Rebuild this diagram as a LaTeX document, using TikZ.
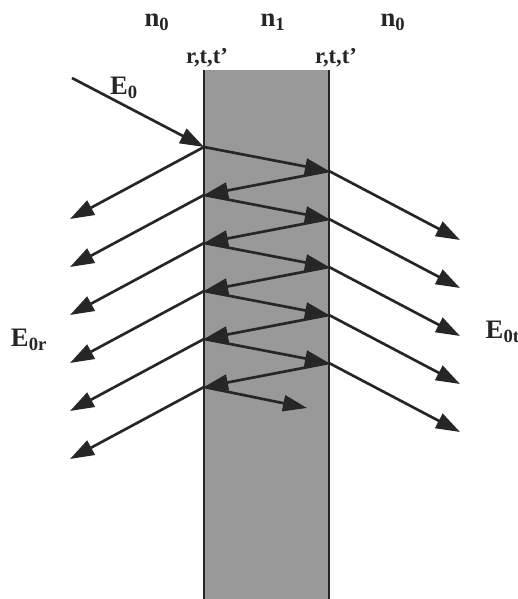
\documentclass[tikz,border=0pt]{standalone}
\usepackage{fontspec}
\setmainfont{Liberation Serif}
\usepackage{tikz}
\usetikzlibrary{arrows.meta}

\tikzset{
  ray/.style={line width=2pt, black!85, -{Triangle[length=18pt, width=12pt]}},
  lbl/.style={font=\bfseries\fontsize{20}{22}\selectfont, black!85},
  ilbl/.style={font=\bfseries\fontsize{17}{19}\selectfont, black!85}
}

\begin{document}
\begin{tikzpicture}[x=0.75pt, y=-0.75pt]
  \useasboundingbox (0,0) rectangle (517,599);

  % Plaque
  \fill[black!40] (204,70) rectangle (329,599);
  \draw[line width=2.2pt, black!85] (204,70) -- (204,599);
  \draw[line width=2.2pt, black!85] (329,70) -- (329,599);

  % Indices
  \node[lbl] (nzeroL) at (157,22) {n\textsubscript{0}};
  \node[lbl] (none) at (273,22) {n\textsubscript{1}};
  \node[lbl] (nzeroR) at (393,22) {n\textsubscript{0}};
  \node[ilbl] (coefL) at (207,58) {r,t,t'};
  \node[ilbl] (coefR) at (336,58) {r,t,t'};

  % Points sur les interfaces
  \coordinate (L0) at (204,147);
  \coordinate (R0) at (329,171);
  \coordinate (L1) at (204,195);
  \coordinate (R1) at (329,219);
  \coordinate (L2) at (204,243);
  \coordinate (R2) at (329,267);
  \coordinate (L3) at (204,291);
  \coordinate (R3) at (329,315);
  \coordinate (L4) at (204,339);
  \coordinate (R4) at (329,363);
  \coordinate (L5) at (204,387);
  \coordinate (fin) at (307,408);

  % Onde incidente
  \coordinate (src) at (72,78);
  \draw[ray] (src) -- (L0);
  \node[lbl] (Ezero) at (124,88) {E\textsubscript{0}};

  % Aller-retours dans la plaque
  \draw[ray] (L0) -- (R0);
  \draw[ray] (R0) -- (L1);
  \draw[ray] (L1) -- (R1);
  \draw[ray] (R1) -- (L2);
  \draw[ray] (L2) -- (R2);
  \draw[ray] (R2) -- (L3);
  \draw[ray] (L3) -- (R3);
  \draw[ray] (R3) -- (L4);
  \draw[ray] (L4) -- (R4);
  \draw[ray] (R4) -- (L5);
  \draw[ray] (L5) -- (fin);

  % Ondes reflechies
  \coordinate (r0) at (70,219);
  \coordinate (r1) at (70,267);
  \coordinate (r2) at (70,315);
  \coordinate (r3) at (70,363);
  \coordinate (r4) at (70,411);
  \coordinate (r5) at (70,459);
  \draw[ray] (L0) -- (r0);
  \draw[ray] (L1) -- (r1);
  \draw[ray] (L2) -- (r2);
  \draw[ray] (L3) -- (r3);
  \draw[ray] (L4) -- (r4);
  \draw[ray] (L5) -- (r5);
  \node[lbl] (Er) at (29,340) {E\textsubscript{0r}};

  % Ondes transmises
  \coordinate (t0) at (460,240);
  \coordinate (t1) at (460,288);
  \coordinate (t2) at (460,336);
  \coordinate (t3) at (460,384);
  \coordinate (t4) at (460,432);
  \draw[ray] (R0) -- (t0);
  \draw[ray] (R1) -- (t1);
  \draw[ray] (R2) -- (t2);
  \draw[ray] (R3) -- (t3);
  \draw[ray] (R4) -- (t4);
  \node[lbl, anchor=west] (Et) at (481,332) {E\textsubscript{0t}};
\end{tikzpicture}
\end{document}
